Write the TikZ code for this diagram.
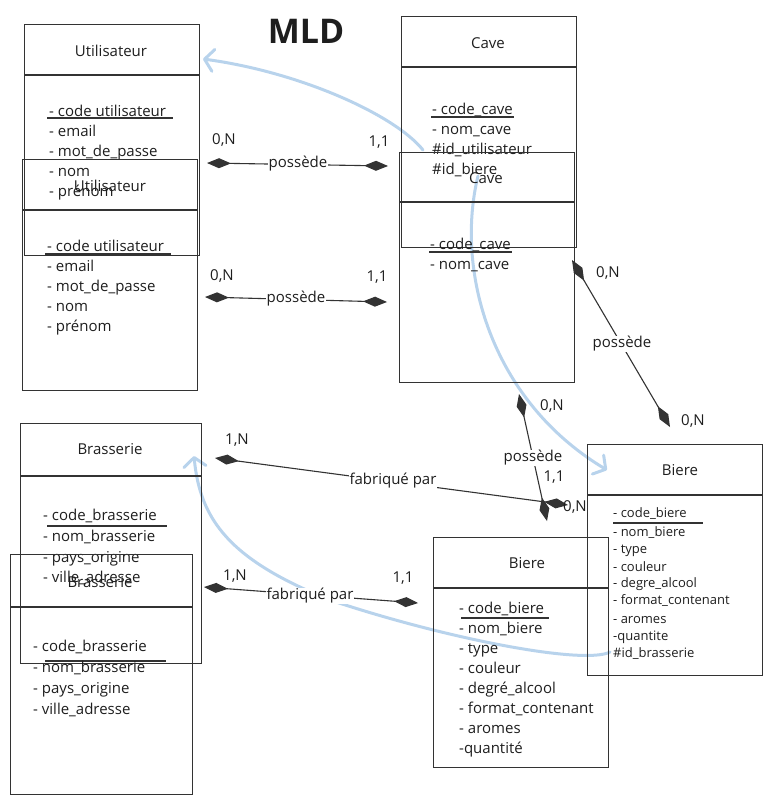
\documentclass[tikz,border=0pt]{standalone}
\usepackage{fontspec}
\setmainfont{Open Sans}
\usetikzlibrary{arrows.meta}
\definecolor{ink}{HTML}{333333}
\definecolor{txt}{HTML}{1E1E1E}
\definecolor{blueline}{HTML}{B8D3EC}
\begin{document}
\begin{tikzpicture}[x=1pt,y=-1pt,
  box/.style={draw=ink,line width=1.4pt,inner sep=0pt,anchor=north west},
  sep/.style={draw=ink,line width=1.2pt},
  uline/.style={draw=ink,line width=1.1pt},
  title/.style={inner sep=0pt,text=txt,font=\fontsize{15}{18}\selectfont},
  attr/.style={anchor=base west,inner sep=0pt,text=txt,font=\fontsize{15}{18}\selectfont},
  sattr/.style={anchor=base west,inner sep=0pt,text=txt,font=\fontsize{13}{16}\selectfont},
  lbl/.style={fill=white,inner sep=0.5pt,text=txt,font=\fontsize{15}{18}\selectfont},
  card/.style={inner sep=0pt,text=txt,font=\fontsize{15}{18}\selectfont},
  rel/.style={draw=ink,line width=1.1pt,{Diamond[length=24pt,width=10pt]}-{Diamond[length=24pt,width=10pt]}},
  fk/.style={draw=blueline,line width=3pt,line cap=round,-{Straight Barb[length=9pt,width=22pt,round]}}
]
\useasboundingbox (0,0) rectangle (771,804);

% ---- blue foreign-key curves (under everything)
\coordinate (b1s) at (423,150); \coordinate (b1e) at (203,59);
\draw[fk] (b1s) .. controls (395,115) and (300,72) .. (b1e);
\coordinate (b2s) at (478,176); \coordinate (b2e) at (607,470);
\draw[fk] (b2s) .. controls (455,270) and (490,400) .. (b2e);
\coordinate (b3s) at (610,652); \coordinate (b3m) at (330,600); \coordinate (b3e) at (194,456);
\draw[fk] (b3s) .. controls (585,665) and (450,640) .. (b3m) .. controls (230,560) and (200,520) .. (b3e);

% ---- title
\node[inner sep=0pt,font=\fontsize{34}{34}\selectfont\bfseries,text=txt] (mld) at (306,31) {MLD};

% ---- Utilisateur A
\node[box,minimum width=175pt,minimum height=231pt] (uA) at (24,24) {};
\draw[sep] (uA.west |- 0,75) -- (uA.east |- 0,75);
\node[title] (uAt) at (111,51) {Utilisateur};
\node[attr] (uA1) at (49,116) {- code utilisateur};
\draw[uline] (47,118) -- (173,118);
\node[attr] (uA2) at (49,136) {- email};
\node[attr] (uA3) at (49,156) {- mot\_de\_passe};
\node[attr] (uA4) at (49,176) {- nom};
\node[attr] (uA5) at (49,196) {- prénom};

% ---- Utilisateur B
\node[box,minimum width=175pt,minimum height=231pt] (uB) at (22,159) {};
\draw[sep] (uB.west |- 0,210) -- (uB.east |- 0,210);
\node[title] (uBt) at (110,186) {Utilisateur};
\node[attr] (uB1) at (47,251) {- code utilisateur};
\draw[uline] (45,254) -- (171,254);
\node[attr] (uB2) at (47,271) {- email};
\node[attr] (uB3) at (47,291) {- mot\_de\_passe};
\node[attr] (uB4) at (47,311) {- nom};
\node[attr] (uB5) at (47,331) {- prénom};

% ---- Cave A
\node[box,minimum width=175pt,minimum height=231pt] (cA) at (401,16) {};
\draw[sep] (cA.west |- 0,67) -- (cA.east |- 0,67);
\node[title] (cAt) at (488,43) {Cave};
\node[attr] (cA1) at (432,114) {- code\_cave};
\draw[uline] (431,117) -- (514,117);
\node[attr] (cA2) at (432,134) {- nom\_cave};
\node[attr] (cA3) at (432,154) {\#id\_utilisateur};
\node[attr] (cA4) at (432,174) {\#id\_biere};

% ---- Cave B
\node[box,minimum width=175pt,minimum height=230pt] (cB) at (399,152) {};
\draw[sep] (cB.west |- 0,202) -- (cB.east |- 0,202);
\node[title] (cBt) at (486,178) {Cave};
\node[attr] (cB1) at (430,249) {- code\_cave};
\draw[uline] (429,252) -- (512,252);
\node[attr] (cB2) at (430,269) {- nom\_cave};

% ---- Brasserie A
\node[box,minimum width=181pt,minimum height=240pt] (brA) at (20,423) {};
\draw[sep] (brA.west |- 0,476) -- (brA.east |- 0,476);
\node[title] (brAt) at (110,449) {Brasserie};
\node[attr] (brA1) at (43,520) {- code\_brasserie};
\draw[uline] (47,526) -- (167,526);
\node[attr] (brA2) at (43,541) {- nom\_brasserie};
\node[attr] (brA3) at (43,562) {- pays\_origine};
\node[attr] (brA4) at (43,582) {- ville\_adresse};

% ---- Brasserie B
\node[box,minimum width=182pt,minimum height=240pt] (brB) at (10,554) {};
\draw[sep] (brB.west |- 0,607) -- (brB.east |- 0,607);
\node[title] (brBt) at (100,582) {Brasserie};
\node[attr] (brB1) at (33,651) {- code\_brasserie};
\draw[uline] (45,661) -- (166,661);
\node[attr] (brB2) at (33,672) {- nom\_brasserie};
\node[attr] (brB3) at (33,693) {- pays\_origine};
\node[attr] (brB4) at (33,714) {- ville\_adresse};

% ---- Biere right
\node[box,minimum width=175pt,minimum height=231pt] (biR) at (587,444) {};
\draw[sep] (biR.west |- 0,495) -- (biR.east |- 0,495);
\node[title] (biRt) at (680,470) {Biere};
\node[sattr] (biR1) at (613,517.5) {- code\_biere};
\draw[uline] (613,523) -- (703,523);
\node[sattr] (biR2) at (613,536.5) {- nom\_biere};
\node[sattr] (biR3) at (613,553.5) {- type};
\node[sattr] (biR4) at (613,571.5) {- couleur};
\node[sattr] (biR5) at (613,587.5) {- degre\_alcool};
\node[sattr] (biR6) at (613,604.5) {- format\_contenant};
\node[sattr] (biR7) at (613,623.5) {- aromes};
\node[sattr] (biR8) at (613,640.5) {-quantite};
\node[sattr] (biR9) at (613,657.5) {\#id\_brasserie};

% ---- Biere left
\node[box,minimum width=175pt,minimum height=230pt] (biL) at (433,537) {};
\draw[sep] (biL.west |- 0,588) -- (biL.east |- 0,588);
\node[title] (biLt) at (527,563) {Biere};
\node[attr] (biL1) at (459,613) {- code\_biere};
\draw[uline] (461,618) -- (549,618);
\node[attr] (biL2) at (459,633) {- nom\_biere};
\node[attr] (biL3) at (459,653) {- type};
\node[attr] (biL4) at (459,673) {- couleur};
\node[attr] (biL5) at (459,693) {- degré\_alcool};
\node[attr] (biL6) at (459,713) {- format\_contenant};
\node[attr] (biL7) at (459,733) {- aromes};
\node[attr] (biL8) at (459,753) {-quantité};

% ---- relation 1 : Utilisateur A -- Cave A
\coordinate (r1a) at (207,163); \coordinate (r1b) at (388,166);
\draw[rel] (r1a) -- (r1b);
\node[lbl] (r1l) at (298,164) {possède};
\node[card] (r1c1) at (224,140) {0,N};
\node[card] (r1c2) at (379,142) {1,1};

% ---- relation 2 : Utilisateur B -- Cave B
\coordinate (r2a) at (205,297); \coordinate (r2b) at (387,302);
\draw[rel] (r2a) -- (r2b);
\node[lbl] (r2l) at (296,299) {possède};
\node[card] (r2c1) at (222,276) {0,N};
\node[card] (r2c2) at (377,277) {1,1};

% ---- relation 3 : Cave B -- Biere right
\coordinate (r3a) at (572,260); \coordinate (r3b) at (670,427);
\draw[rel] (r3a) -- (r3b);
\node[lbl] (r3l) at (622,344) {possède};
\node[card] (r3c1) at (608,273) {0,N};
\node[card] (r3c2) at (693,421) {0,N};

% ---- relation 4 : Cave B -- Biere left
\coordinate (r4a) at (519,394); \coordinate (r4b) at (547,521);
\draw[rel] (r4a) -- (r4b);
\node[lbl] (r4l) at (533,458) {possède};
\node[card] (r4c1) at (552,406) {0,N};
\node[card] (r4c2) at (554,477) {1,1};

% ---- relation 5 : Brasserie A -- Biere
\coordinate (r5a) at (215,458); \coordinate (r5b) at (568,505);
\draw[rel] (r5a) -- (r5b);
\node[lbl] (r5l) at (393,481) {fabriqué par};
\node[card] (r5c1) at (237,440) {1,N};
\node[card] (r5c2) at (575,507) {0,N};

% ---- relation 6 : Brasserie B -- Biere left
\coordinate (r6a) at (204,587); \coordinate (r6b) at (418,603);
\draw[rel] (r6a) -- (r6b);
\node[lbl] (r6l) at (310,596) {fabriqué par};
\node[card] (r6c1) at (235,576) {1,N};
\node[card] (r6c2) at (403,578) {1,1};
\end{tikzpicture}
\end{document}
